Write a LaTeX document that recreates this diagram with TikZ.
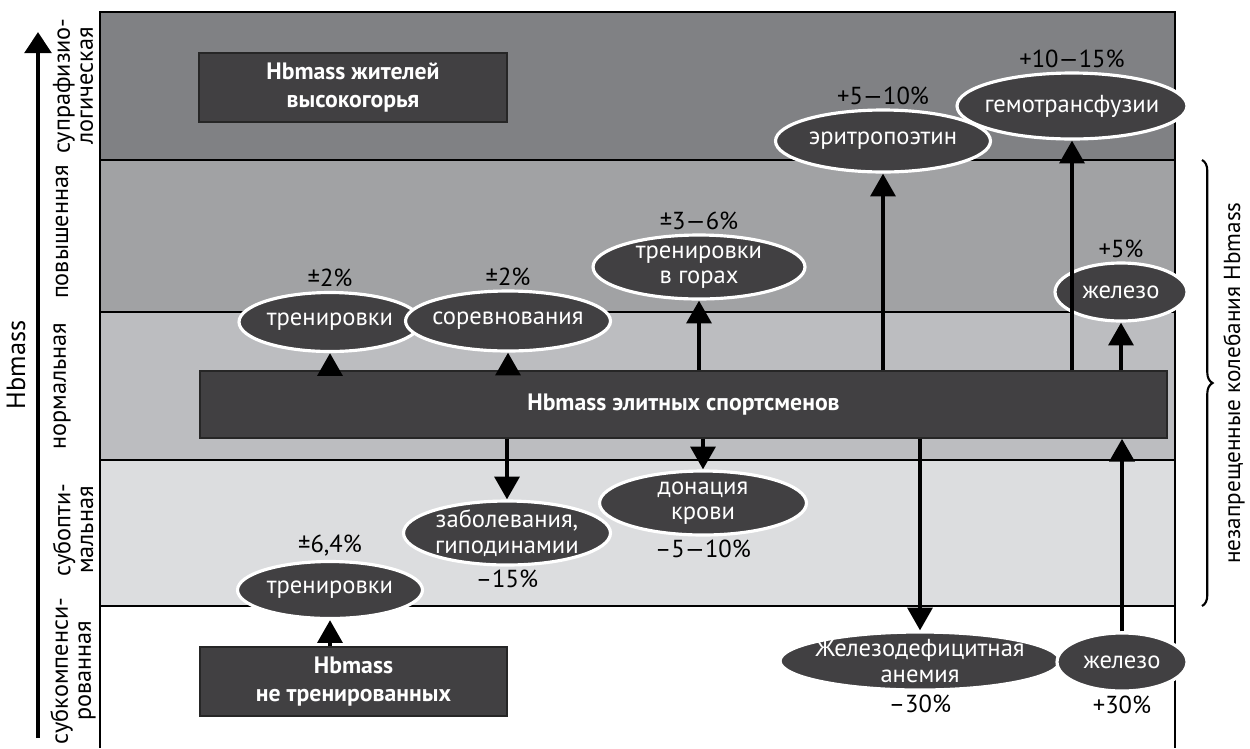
\documentclass[tikz,border=0pt]{standalone}
\usepackage{fontspec}
\setmainfont{PT Sans}
\usetikzlibrary{calc,shapes.geometric,arrows.meta,decorations.pathreplacing}
\definecolor{dark}{HTML}{414042}
\definecolor{bandsupra}{HTML}{808184}
\definecolor{bandhigh}{HTML}{A1A2A4}
\definecolor{bandnorm}{HTML}{BCBDC0}
\definecolor{bandsub}{HTML}{DCDDDF}

\begin{document}
\begin{tikzpicture}[x=0.02cm,y=-0.02cm,
        oval/.style={ellipse,fill=dark,draw=white,line width=1.8pt,text=white,inner xsep=-8pt,inner ysep=-1pt,align=center,font={\fontsize{14}{14.5}\selectfont}},
        box/.style={rectangle,fill=dark,draw=black!85,line width=0.8pt,text=white,inner sep=0pt,align=center,font={\fontsize{13.5}{15.5}\selectfont\bfseries}},
        pct/.style={inner sep=2pt,font={\fontsize{14}{14}\selectfont}},
        level/.style={rotate=90,align=center,inner sep=0pt,font={\fontsize{13.8}{13}\selectfont}},
        up/.style={line width=2.6pt,-{Triangle[width=14pt,length=13pt]}}]
            \useasboundingbox (0,0) rectangle (1250,748);

            \fill[bandsupra] (100,12) rectangle (1175,160);
            \fill[bandhigh] (100,160) rectangle (1175,312);
            \fill[bandnorm] (100,312) rectangle (1175,460);
            \fill[bandsub] (100,460) rectangle (1175,606);
            \foreach \y in {160,312,460,606}
                \draw[line width=1.1pt] (100,\y) -- (1175,\y);
            \draw[line width=1.3pt] (100,748) -- (100,12) -- (1175,12) -- (1175,748);

            \coordinate (axbot) at (38,738);
            \coordinate (axtop) at (38,32);
            \draw[line width=2.6pt,-{Triangle[width=15pt,length=12pt]}] (axbot) -- (axtop);
            \node[level,font={\fontsize{15}{15}\selectfont}] (axis) at (16,365) {Hbmass};

            \node[level] (supra) at (73,86) {супрафизио-\\логическая};
            \node[level] (high) at (62,232) {повышенная};
            \node[level] (norm) at (62,386) {нормальная};
            \node[level] (sub) at (73,530) {субопти-\\мальная};
            \node[level] (comp) at (73,671) {субкомпенси-\\рованная};

            \node[box,minimum width=6.16cm,minimum height=1.38cm] (highland) at (353,87.5) {Hbmass жителей\\высокогорья};
            \node[box,minimum width=19.34cm,minimum height=1.34cm] (elite) at (683.5,404.5) {Hbmass элитных спортсменов};
            \node[box,minimum width=6.14cm,minimum height=1.38cm] (untrained) at (353.5,681.5) {Hbmass\\не тренированных};

            \node[oval,minimum width=3.64cm,minimum height=1.18cm] (train) at (330,322) {тренировки};
            \node[oval,minimum width=4.1cm,minimum height=1.2cm] (compet) at (508,321) {соревнования};
            \node[oval,minimum width=4.24cm,minimum height=1.28cm] (mount) at (699,267) {тренировки\\в горах};
            \node[oval,minimum width=4.3cm,minimum height=1.24cm] (epo) at (883,141) {эритропоэтин};
            \node[oval,minimum width=4.6cm,minimum height=1.32cm] (transf) at (1072,106) {гемотрансфузии};
            \node[oval,minimum width=2.64cm,minimum height=1.16cm] (iron) at (1121,292) {железо};
            \node[oval,minimum width=4.14cm,minimum height=1.28cm] (illness) at (507,533) {заболевания,\\гиподинамии};
            \node[oval,minimum width=4.14cm,minimum height=1.28cm] (donor) at (703,503) {донация\\крови};
            \node[oval,minimum width=3.7cm,minimum height=1.14cm] (trainlow) at (330,590) {тренировки};
            \node[oval,minimum width=5.6cm,minimum height=1.16cm] (anemia) at (920,661) {Железодефицитная\\анемия};
            \node[oval,minimum width=2.6cm,minimum height=1.16cm] (ironlow) at (1122,662) {железо};

            \node[pct,anchor=south] (trainp) at (train.north) {±2\%};
            \node[pct,anchor=south] (competp) at (compet.north) {±2\%};
            \node[pct,anchor=south] (mountp) at (mount.north) {±3—6\%};
            \node[pct,anchor=south] (epop) at (epo.north) {+5—10\%};
            \node[pct,anchor=south] (transfp) at (transf.north) {+10—15\%};
            \node[pct,anchor=south] (ironp) at (iron.north) {+5\%};
            \node[pct,anchor=south] (trainlowp) at (trainlow.north) {±6,4\%};
            \node[pct,anchor=north] (illnessp) at (illness.south) {–15\%};
            \node[pct,anchor=north] (donorp) at (donor.south) {–5—10\%};
            \node[pct,anchor=north] (anemiap) at (anemia.south) {–30\%};
            \node[pct,anchor=north] (ironlowp) at (ironlow.south) {+30\%};

            \draw[up] (elite.north -| train) -- (train.south);
            \draw[up] (elite.north -| compet) -- (compet.south);
            \draw[up] (elite.north -| mount) -- (mount.south);
            \draw[up] (elite.north -| epo) -- (epo.south);
            \draw[up] (elite.north -| transf) -- (transf.south);
            \draw[up] (elite.north -| iron) -- (iron.south);
            \draw[up] (elite.south -| illness) -- (illness.north);
            \draw[up] (elite.south -| donor) -- (donor.north);
            \draw[up] (elite.south -| anemia) -- (anemia.north);
            \draw[up] (ironlow.north) -- (elite.south -| ironlow);
            \draw[up] (untrained.north -| trainlow) -- (trainlow.south);

            \draw[line width=1.2pt,decorate,decoration={brace,amplitude=6pt}] (1202,160) -- (1202,606);
            \node[level,font={\fontsize{13.2}{13}\selectfont}] (allowed) at (1234,383) {незапрещенные колебания Hbmass};
        \end{tikzpicture}
\end{document}
